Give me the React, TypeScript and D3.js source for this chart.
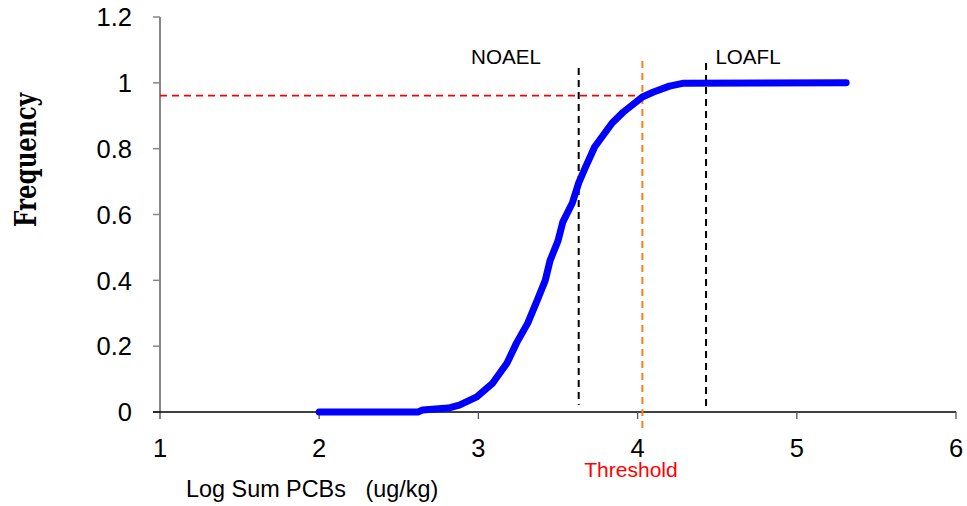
import React from "react";
import * as d3 from "d3";

const logPCB = [2.0, 2.62, 2.65, 2.81, 2.88, 2.99, 3.09, 3.18, 3.24, 3.31, 3.37, 3.42, 3.45, 3.5, 3.53, 3.59, 3.63, 3.67, 3.73, 3.84, 3.91, 4.03, 4.1, 4.2, 4.29, 5.31];
const frequency = [0, 0, 0.006, 0.012, 0.021, 0.046, 0.088, 0.149, 0.21, 0.27, 0.34, 0.4, 0.46, 0.52, 0.577, 0.635, 0.696, 0.741, 0.805, 0.878, 0.911, 0.957, 0.972, 0.99, 0.999, 1.0];

const xTicks = [1, 2, 3, 4, 5, 6];
const yTicks = [0, 0.2, 0.4, 0.6, 0.8, 1.0, 1.2];
const yTickLabels = ["0", "0.2", "0.4", "0.6", "0.8", "1", "1.2"];

const noael = 3.63;
const loafl = 4.43;
const threshold = 4.03;
const thresholdFreq = 0.961;

export default function App() {
  const W = 967, H = 506;
  const x = d3.scaleLinear().domain([1, 6]).range([160, 956]);
  const y = d3.scaleLinear().domain([0, 1.2]).range([412, 17]);
  const pts = logPCB.map((v, i) => [v, frequency[i]] as [number, number]);
  const line = d3.line<[number, number]>().x(d => x(d[0])).y(d => y(d[1]));
  const font = "'Liberation Sans', Arial, sans-serif";

  return (
    <svg width={W} height={H} style={{ position: "absolute", left: 0, top: 0, background: "#fff" }}>
      {/* y axis */}
      <line x1={x(1)} x2={x(1)} y1={y(1.2)} y2={419} stroke="#868686" strokeWidth={2} />
      {yTicks.map((t, i) => (
        <g key={"yt" + i}>
          <line x1={153} x2={x(1)} y1={y(t)} y2={y(t)} stroke="#868686" strokeWidth={1.5} />
          <text x={132} y={y(t)} dy="0.36em" textAnchor="end" fontFamily={font} fontSize={25.5} fill="#000">{yTickLabels[i]}</text>
        </g>
      ))}
      {/* x axis */}
      <line x1={153} x2={x(6)} y1={y(0)} y2={y(0)} stroke="#000" strokeWidth={1.3} />
      {xTicks.map((t, i) => (
        <g key={"xt" + i}>
          {i > 0 && <line x1={x(t)} x2={x(t)} y1={y(0)} y2={419} stroke="#555" strokeWidth={1.3} />}
          <text x={x(t)} y={457} textAnchor="middle" fontFamily={font} fontSize={25.5} fill="#000">{t}</text>
        </g>
      ))}
      {/* reference lines */}
      <line x1={x(1)} x2={x(threshold)} y1={y(thresholdFreq)} y2={y(thresholdFreq)} stroke="#ff0000" strokeWidth={1.6} strokeDasharray="7,5" />
      <line x1={x(noael)} x2={x(noael)} y1={68} y2={405} stroke="#000" strokeWidth={2} strokeDasharray="7,5" />
      <line x1={x(loafl)} x2={x(loafl)} y1={63} y2={407} stroke="#000" strokeWidth={2} strokeDasharray="7,5" />
      <line x1={x(threshold)} x2={x(threshold)} y1={61} y2={430} stroke="#ff7c1f" strokeWidth={2} strokeDasharray="7,5" />
      {/* curve */}
      <path d={line(pts) || ""} fill="none" stroke="#0000ff" strokeWidth={7} strokeLinecap="round" strokeLinejoin="round" />
      {/* labels */}
      <text x={506} y={64} textAnchor="middle" fontFamily={font} fontSize={20.6} fill="#000">NOAEL</text>
      <text x={748} y={64} textAnchor="middle" fontFamily={font} fontSize={20.6} fill="#000">LOAFL</text>
      <text x={631} y={477} textAnchor="middle" fontFamily={font} fontSize={21} fill="#ff0000">Threshold</text>
      <text x={186} y={497} fontFamily={font} fontSize={23.4} fill="#000" style={{ whiteSpace: "pre" }}>{"Log Sum PCBs   (ug/kg)"}</text>
      <text transform="translate(36,160) rotate(-90)" textAnchor="middle" fontFamily="'DejaVu Serif', serif" fontWeight="bold" fontSize={30} textLength={134} lengthAdjust="spacingAndGlyphs" fill="#000">Frequency</text>
    </svg>
  );
}
